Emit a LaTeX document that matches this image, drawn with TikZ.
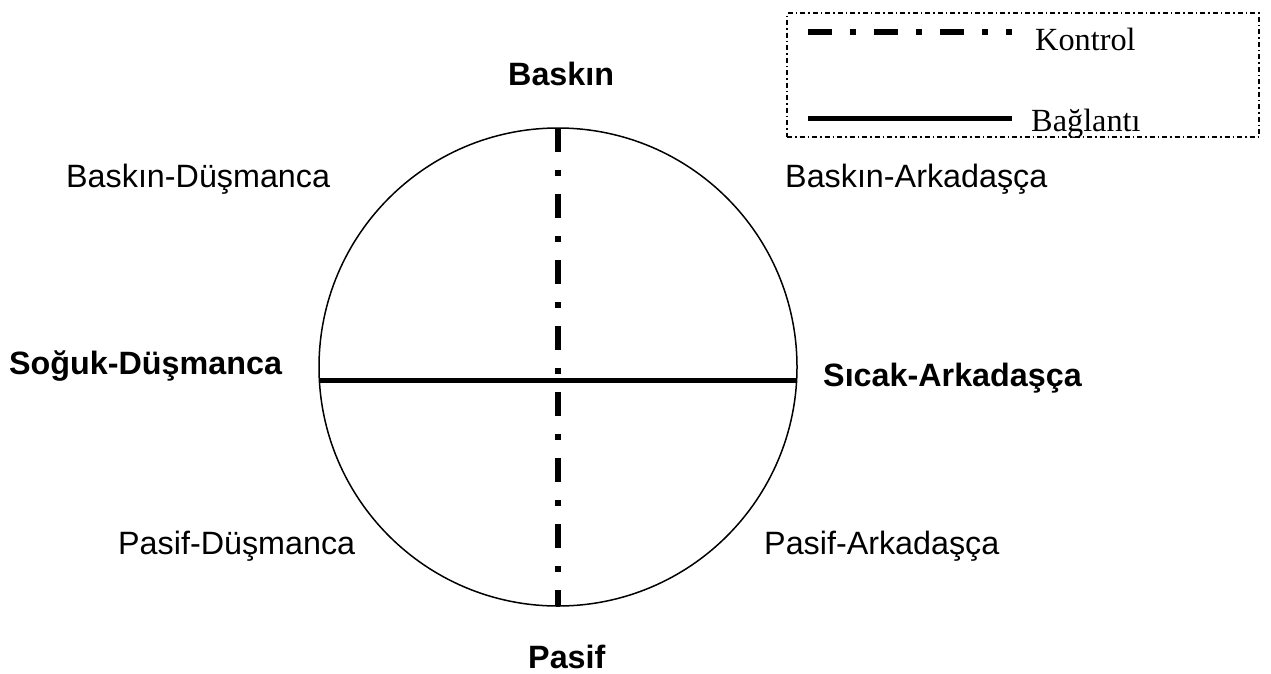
\documentclass[tikz,border=0pt]{standalone}
\usepackage{fontspec}
\setmainfont{Liberation Sans}
\newfontfamily\timesfont{Liberation Serif}
\begin{document}
\begin{tikzpicture}[x=1pt,y=-1pt,
  lbl/.style={anchor=base west,inner sep=0pt,font=\fontsize{32.3}{36}\selectfont},
  blbl/.style={lbl,font=\fontsize{32.3}{36}\selectfont\bfseries},
  leglbl/.style={anchor=base west,inner sep=0pt,font=\timesfont\fontsize{32.3}{36}\selectfont},
  ctrl/.style={line width=5.5pt,dash pattern=on 24pt off 18pt on 6pt off 18pt},
  conn/.style={line width=5pt},
  legbox/.style={line width=1.1pt,dash pattern=on 5pt off 3pt on 1.5pt off 3pt}]
\useasboundingbox (0,0) rectangle (1271,673);
% circle
\node[circle,draw,line width=1.5pt,minimum size=478pt,inner sep=0pt] (circ) at (558,367) {};
\coordinate (top) at (558,128);
\coordinate (bot) at (558,606);
\coordinate (lft) at (319,380);
\coordinate (rgt) at (797,380);
\draw[ctrl] (top) -- (bot);
\draw[conn] (lft) -- (rgt);
% labels
\node[blbl] (baskin) at (508,85) {Baskın};
\node[blbl] (pasif) at (528,668) {Pasif};
\node[blbl] (soguk) at (9,374) {Soğuk-Düşmanca};
\node[blbl] (sicak) at (823,386) {Sıcak-Arkadaşça};
\node[lbl] (bd) at (66,187) {Baskın-Düşmanca};
\node[lbl] (ba) at (785,187) {Baskın-Arkadaşça};
\node[lbl] (pd) at (118,554) {Pasif-Düşmanca};
\node[lbl] (pa) at (764,554) {Pasif-Arkadaşça};
% legend
\node[legbox,draw,minimum width=472pt,minimum height=124pt,inner sep=0pt] (leg) at (1023,75) {};
\coordinate (k1) at (808,32);
\coordinate (k2) at (1012,32);
\coordinate (b1) at (808,118);
\coordinate (b2) at (1012,118);
\draw[ctrl] (k1) -- (k2);
\draw[conn] (b1) -- (b2);
\node[leglbl] (kontrol) at (1035,50) {Kontrol};
\node[leglbl] (baglanti) at (1031,131) {Bağlantı};
\end{tikzpicture}
\end{document}
